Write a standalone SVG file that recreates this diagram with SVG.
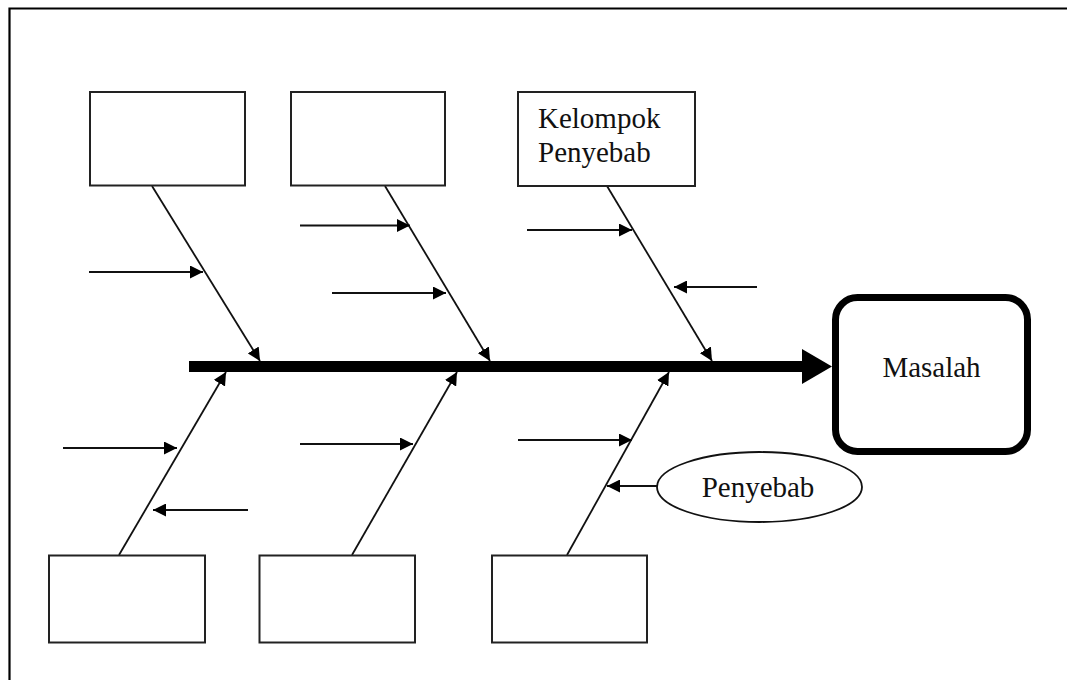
<svg xmlns="http://www.w3.org/2000/svg" width="1067" height="680" viewBox="0 0 1067 680">
<style>
.box{fill:#fff;stroke:#222;stroke-width:2}
.ln{fill:none;stroke:#111;stroke-width:1.8}
.t{font-family:"Liberation Serif","Times New Roman",serif;font-size:29px;fill:#111}
</style>
<defs>
<marker id="ah" viewBox="0 0 13 13" markerWidth="13" markerHeight="13" markerUnits="userSpaceOnUse" refX="13" refY="6.5" orient="auto">
<path d="M0,0 L13,6.5 L0,13 z" fill="#000"/>
</marker>
</defs>
<rect width="1067" height="680" fill="#fff"/>
<path d="M9.5 680 V8.5 H1067" fill="none" stroke="#000" stroke-width="2.2"/>

<g id="connectors">
<rect x="189" y="361" width="614" height="11" fill="#000"/>
<polygon points="802,349 832,366.5 802,384" fill="#000"/>
<line class="ln" x1="152" y1="186" x2="260" y2="361" marker-end="url(#ah)"/>
<line class="ln" x1="385" y1="186" x2="490" y2="361" marker-end="url(#ah)"/>
<line class="ln" x1="607" y1="186" x2="712" y2="361" marker-end="url(#ah)"/>
<line class="ln" x1="119" y1="555" x2="226" y2="372" marker-end="url(#ah)"/>
<line class="ln" x1="352" y1="555" x2="457" y2="372" marker-end="url(#ah)"/>
<line class="ln" x1="567" y1="555" x2="669" y2="372" marker-end="url(#ah)"/>
<line class="ln" x1="89" y1="272" x2="203" y2="272" marker-end="url(#ah)"/>
<line class="ln" x1="300" y1="225.5" x2="410" y2="225.5" marker-end="url(#ah)"/>
<line class="ln" x1="332" y1="293" x2="446" y2="293" marker-end="url(#ah)"/>
<line class="ln" x1="527" y1="230" x2="632" y2="230" marker-end="url(#ah)"/>
<line class="ln" x1="757" y1="287" x2="674" y2="287" marker-end="url(#ah)"/>
<line class="ln" x1="63" y1="448" x2="177" y2="448" marker-end="url(#ah)"/>
<line class="ln" x1="248" y1="510" x2="153" y2="510" marker-end="url(#ah)"/>
<line class="ln" x1="300" y1="444" x2="413" y2="444" marker-end="url(#ah)"/>
<line class="ln" x1="518" y1="440" x2="632" y2="440" marker-end="url(#ah)"/>
<line class="ln" x1="657" y1="486" x2="607" y2="486" marker-end="url(#ah)"/>
</g>

<g id="top1"><rect class="box" x="90" y="92" width="155" height="93.5"/></g>
<g id="top2"><rect class="box" x="291" y="92" width="154" height="93.5"/></g>
<g id="top3"><rect class="box" x="518" y="92" width="177" height="94"/>
<text class="t" x="538" y="128">Kelompok</text>
<text class="t" x="538" y="162">Penyebab</text></g>
<g id="bottom1"><rect class="box" x="49" y="555.5" width="156" height="87"/></g>
<g id="bottom2"><rect class="box" x="259.5" y="555.5" width="155.5" height="87"/></g>
<g id="bottom3"><rect class="box" x="492" y="555.5" width="155" height="87"/></g>
<g id="masalah"><rect x="835.5" y="297.5" width="192" height="154" rx="22" fill="#fff" stroke="#000" stroke-width="7"/>
<text class="t" x="931.5" y="377" text-anchor="middle">Masalah</text></g>
<g id="penyebab"><ellipse cx="759.5" cy="487" rx="102.5" ry="35" fill="#fff" stroke="#111" stroke-width="1.8"/>
<text class="t" x="758" y="497" text-anchor="middle">Penyebab</text></g>
</svg>
